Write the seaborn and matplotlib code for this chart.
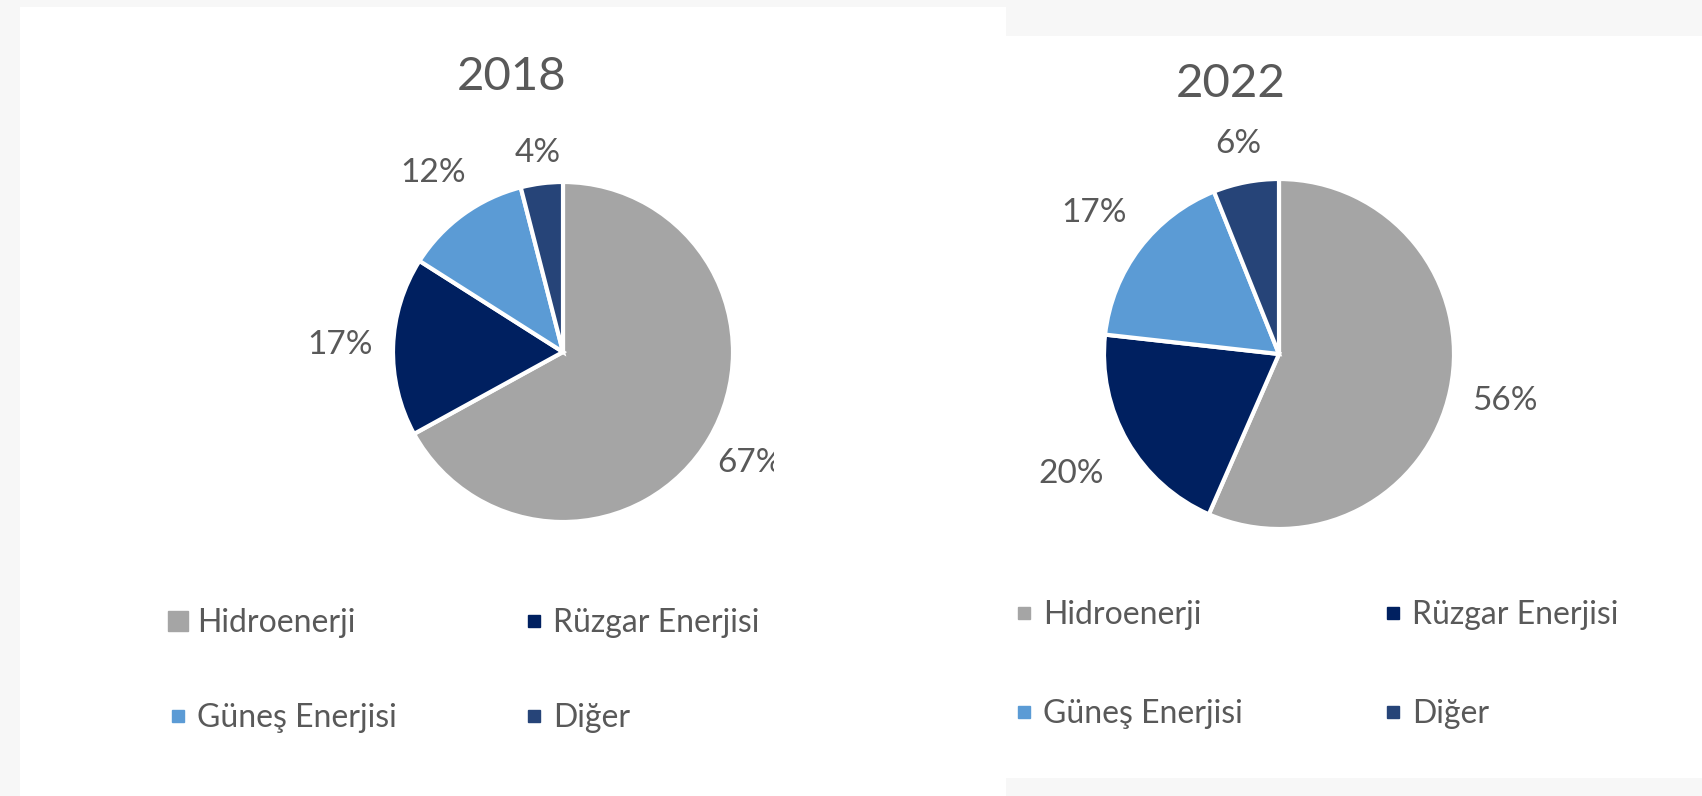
import matplotlib
matplotlib.use("Agg")
import matplotlib.pyplot as plt
import seaborn as sns
from matplotlib.lines import Line2D
from matplotlib.patches import Rectangle
from matplotlib.transforms import Bbox, TransformedBbox

# ---- data ----
categories = ["Hidroenerji", "Rüzgar Enerjisi", "Güneş Enerjisi", "Diğer"]
years = ["2018", "2022"]
values_2018 = [67, 17, 12, 4]
values_2022 = [56, 20, 17, 6]
colors = ["#a5a5a5", "#002060", "#5b9bd5", "#264478"]

sns.set_theme(style="white")
plt.rcParams["font.family"] = ["Lato", "DejaVu Sans"]
TXT = "#595959"

W, H = 1702, 796
fig = plt.figure(figsize=(W / 100, H / 100), dpi=100, facecolor="#f7f7f7")


def fx(x):
    return x / W


def fy(y):
    return 1 - y / H


# white panels (screenshot background)
fig.patches.append(Rectangle((fx(20), fy(796)), (1006 - 20) / W, (796 - 7) / H,
                             transform=fig.transFigure, facecolor="white", edgecolor="none", zorder=-5))
fig.patches.append(Rectangle((fx(1006), fy(778)), (W - 1006) / W, (778 - 36) / H,
                             transform=fig.transFigure, facecolor="white", edgecolor="none", zorder=-5))

panels = [
    dict(vals=values_2018, year=years[0], cx=563, cy=352, r=170, tx=512, ty=77,
         pctd=1.28, dists=[1.28, 1.31, 1.30, 1.18],
         leg_x=168, leg_y=608, colsp=4.0, lsp=2.05, big_first=True),
    dict(vals=values_2022, year=years[1], cx=1279, cy=354, r=175, tx=1231, ty=84,
         pctd=1.31, dists=[1.32, 1.37, 1.33, 1.22],
         leg_x=1014, leg_y=600, colsp=4.4, lsp=2.16, big_first=False),
]

for i, p in enumerate(panels):
    cx, cy, r = p["cx"], p["cy"], p["r"]
    ax = fig.add_axes([fx(cx - r), fy(cy + r), 2 * r / W, 2 * r / H])
    ax.patch.set_visible(False)
    tot = sum(p["vals"])
    wedges, texts, autotexts = ax.pie(
        p["vals"], colors=colors, startangle=90, counterclock=False,
        autopct=lambda v, tot=tot: f"{v * tot / 100:.0f}%", pctdistance=p["pctd"],
        wedgeprops=dict(edgecolor="white", linewidth=3),
        textprops=dict(color=TXT, fontsize=24),
    )
    # per-label radial offset (Excel "best fit" placement)
    for t, d in zip(autotexts, p["dists"]):
        x, y = t.get_position()
        s = d / p["pctd"]
        t.set_position((x * s, y * s))
    ax.set_xlim(-1, 1)
    ax.set_ylim(-1, 1)
    ax.set_aspect("auto")
    ax.axis("off")
    if i == 0:
        # label clipped at the plot-area edge, as in the source
        clip = TransformedBbox(Bbox([[0, 0], [fx(774), 1]]), fig.transFigure)
        for t in autotexts:
            t.set_clip_box(clip)
            t.set_clip_on(True)

    fig.text(fx(p["tx"]), fy(p["ty"]), p["year"], ha="center", va="center",
             fontsize=34, color=TXT)

    # legend: row 1 Hidro / Rüzgar, row 2 Güneş / Diğer
    order = [0, 2, 1, 3]
    handles = []
    for k in order:
        ms = 15 if (p["big_first"] and k == 0) else 9
        handles.append(Line2D([], [], linestyle="none", marker="s", markersize=ms,
                              markerfacecolor=colors[k], markeredgecolor=colors[k]))
    leg = fig.legend(handles, [categories[k] for k in order], ncol=2,
                     loc="upper left", bbox_to_anchor=(fx(p["leg_x"]), fy(p["leg_y"])),
                     bbox_transform=fig.transFigure, frameon=False, fontsize=23,
                     handlelength=0.6, handletextpad=0.3, labelspacing=p["lsp"],
                     columnspacing=p["colsp"], borderaxespad=0, borderpad=0,
                     labelcolor=TXT)

fig.savefig("out.png", dpi=100, facecolor=fig.get_facecolor())
